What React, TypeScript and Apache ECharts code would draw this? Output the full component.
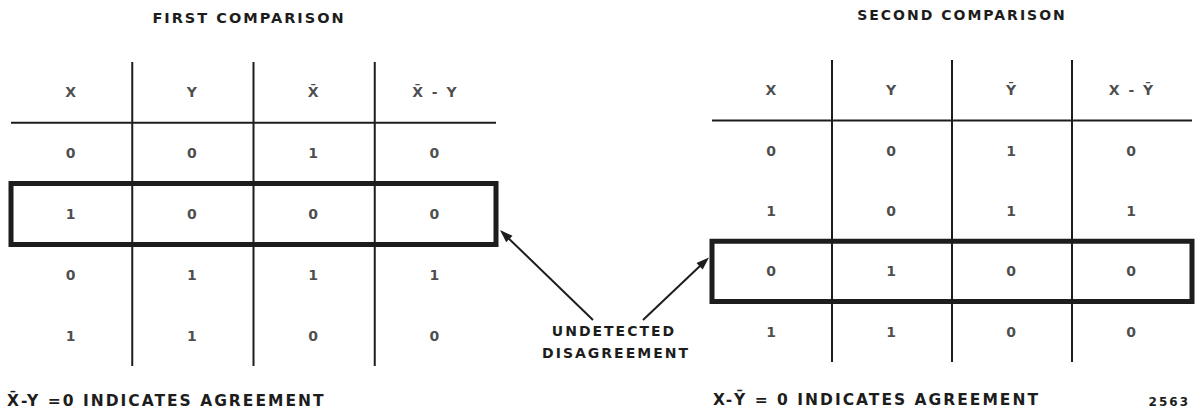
import React, { useEffect, useRef } from 'react';
import * as echarts from 'echarts';

// ---- data ----
const firstTitle = 'FIRST COMPARISON';
const secondTitle = 'SECOND COMPARISON';
const firstColumns = ['X', 'Y', 'X\u0304', 'X\u0304 - Y'];
const secondColumns = ['X', 'Y', 'Y\u0304', 'X - Y\u0304'];
const firstX = [0, 1, 0, 1];
const firstY = [0, 0, 1, 1];
const firstXBar = [1, 0, 1, 0];
const firstXBarMinusY = [0, 0, 1, 0];
const secondX = [0, 1, 0, 1];
const secondY = [0, 0, 1, 1];
const secondYBar = [1, 1, 0, 0];
const secondXMinusYBar = [0, 1, 0, 0];
const firstHighlightRow = 1;
const secondHighlightRow = 2;
const firstFooter = 'X\u0304-Y =0 INDICATES AGREEMENT';
const secondFooter = 'X-Y\u0304 = 0 INDICATES AGREEMENT';
const calloutLines = ['UNDETECTED', 'DISAGREEMENT'];
const figureNumber = '2563';

// ---- style ----
const INK = '#1d1d1d';
const FONT = '"DejaVu Sans", "Liberation Sans", sans-serif';

function cellData(columns: string[], valueCols: number[][]) {
  const out: any[] = [];
  columns.forEach((name, c) => out.push({ value: [c, 0], name }));
  valueCols.forEach((col, c) =>
    col.forEach((v, r) => out.push({ value: [c, r + 1], name: String(v) }))
  );
  return out;
}

function frameRenderer(nCols: number, nRows: number, hlRow: number) {
  return (_params: any, api: any) => {
    const children: any[] = [];
    const top = -0.5;
    const bottom = nRows + 0.5;
    for (let c = 0; c < nCols - 1; c++) {
      const p1 = api.coord([c + 0.5, top]);
      const p2 = api.coord([c + 0.5, bottom]);
      children.push({
        type: 'line',
        shape: { x1: p1[0], y1: p1[1], x2: p2[0], y2: p2[1] },
        style: { stroke: INK, lineWidth: 2 },
      });
    }
    const h1 = api.coord([-0.5, 0.5]);
    const h2 = api.coord([nCols - 0.5, 0.5]);
    children.push({
      type: 'line',
      shape: { x1: h1[0], y1: h1[1], x2: h2[0], y2: h2[1] },
      style: { stroke: INK, lineWidth: 2 },
    });
    const b1 = api.coord([-0.5, hlRow + 0.5]);
    const b2 = api.coord([nCols - 0.5, hlRow + 1.5]);
    children.push({
      type: 'rect',
      shape: { x: b1[0], y: b1[1], width: b2[0] - b1[0], height: b2[1] - b1[1] },
      style: { fill: 'none', stroke: INK, lineWidth: 5 },
      z2: 10,
    });
    return { type: 'group', children };
  };
}

function textEl(text: string, x: number, y: number, size: number, align: string) {
  return {
    type: 'text',
    x,
    y,
    silent: true,
    style: {
      text,
      fill: INK,
      font: `bold ${size}px ${FONT}`,
      textAlign: align,
      align,
      textVerticalAlign: 'middle',
      verticalAlign: 'middle',
    },
  };
}

function arrowEls(tail: number[], tip: number[]) {
  const dx = tip[0] - tail[0];
  const dy = tip[1] - tail[1];
  const len = Math.sqrt(dx * dx + dy * dy);
  const ux = dx / len;
  const uy = dy / len;
  const L = 13;
  const W = 4.5;
  const bx = tip[0] - ux * L;
  const by = tip[1] - uy * L;
  return [
    {
      type: 'line',
      silent: true,
      shape: { x1: tail[0], y1: tail[1], x2: bx + ux * 2, y2: by + uy * 2 },
      style: { stroke: INK, lineWidth: 2 },
    },
    {
      type: 'polygon',
      silent: true,
      shape: {
        points: [
          [tip[0], tip[1]],
          [bx - uy * W, by + ux * W],
          [bx + uy * W, by - ux * W],
        ],
      },
      style: { fill: INK },
    },
  ];
}

export default function App() {
  const ref = useRef<HTMLDivElement>(null);
  useEffect(() => {
    if (!ref.current) return;
    document.body.style.margin = '0';
    document.body.style.overflow = 'hidden';
    const chart = echarts.init(ref.current, undefined, { renderer: 'svg', width: 1202, height: 410 });
    const nRows = firstX.length;
    const labelStyle = {
      show: true,
      position: 'inside',
      formatter: '{b}',
      color: INK,
      fontSize: 14,
      fontWeight: 'bold',
      fontFamily: FONT,
    };
    chart.setOption({
      animation: false,
      backgroundColor: '#ffffff',
      tooltip: { show: false },
      grid: [
        { left: 11, top: 62, width: 485, height: 304 },
        { left: 712, top: 60, width: 480, height: 302 },
      ],
      xAxis: [
        { type: 'value', gridIndex: 0, min: -0.5, max: firstColumns.length - 0.5, show: false },
        { type: 'value', gridIndex: 1, min: -0.5, max: secondColumns.length - 0.5, show: false },
      ],
      yAxis: [
        { type: 'value', gridIndex: 0, min: -0.5, max: nRows + 0.5, inverse: true, show: false },
        { type: 'value', gridIndex: 1, min: -0.5, max: nRows + 0.5, inverse: true, show: false },
      ],
      series: [
        {
          type: 'custom',
          xAxisIndex: 0,
          yAxisIndex: 0,
          silent: true,
          data: [[0, 0]],
          renderItem: frameRenderer(firstColumns.length, nRows, firstHighlightRow),
        },
        {
          type: 'custom',
          xAxisIndex: 1,
          yAxisIndex: 1,
          silent: true,
          data: [[0, 0]],
          renderItem: frameRenderer(secondColumns.length, nRows, secondHighlightRow),
        },
        {
          type: 'scatter',
          xAxisIndex: 0,
          yAxisIndex: 0,
          silent: true,
          symbolSize: 1,
          itemStyle: { color: 'rgba(0,0,0,0)' },
          label: labelStyle,
          data: cellData(firstColumns, [firstX, firstY, firstXBar, firstXBarMinusY]),
        },
        {
          type: 'scatter',
          xAxisIndex: 1,
          yAxisIndex: 1,
          silent: true,
          symbolSize: 1,
          itemStyle: { color: 'rgba(0,0,0,0)' },
          label: labelStyle,
          data: cellData(secondColumns, [secondX, secondY, secondYBar, secondXMinusYBar]),
        },
      ],
    });

    const leftEdge = chart.convertToPixel({ xAxisIndex: 0, yAxisIndex: 0 } as any, [
      firstColumns.length - 0.5,
      firstHighlightRow + 1,
    ]) as number[];
    const rightEdge = chart.convertToPixel({ xAxisIndex: 1, yAxisIndex: 1 } as any, [
      -0.5,
      secondHighlightRow + 1,
    ]) as number[];
    const calloutX = 614;
    const calloutY = 331;
    const leftTip = [leftEdge[0] + 4, leftEdge[1] + 16];
    const rightTip = [rightEdge[0] - 3, rightEdge[1] - 14];
    const leftTail = [calloutX - 21, calloutY - 11];
    const rightTail = [calloutX + 29, calloutY - 11];

    chart.setOption({
      graphic: [
        textEl(firstTitle, 249, 18, 14.5, 'center'),
        textEl(secondTitle, 962, 15, 14, 'center'),
        textEl(firstFooter, 7, 401, 15.5, 'left'),
        textEl(secondFooter, 713, 400, 15.5, 'left'),
        textEl(figureNumber, 1190, 402, 12, 'right'),
        textEl(calloutLines[0], calloutX, calloutY, 14, 'center'),
        textEl(calloutLines[1], calloutX + 2, calloutY + 22, 14, 'center'),
        ...arrowEls(leftTail, leftTip),
        ...arrowEls(rightTail, rightTip),
      ],
    });
    return () => chart.dispose();
  }, []);
  return (
    <>
      <style>{`.chart-root text { letter-spacing: 2px; }`}</style>
      <div ref={ref} className="chart-root" style={{ width: 1202, height: 410, background: '#fff' }} />
    </>
  );
}
